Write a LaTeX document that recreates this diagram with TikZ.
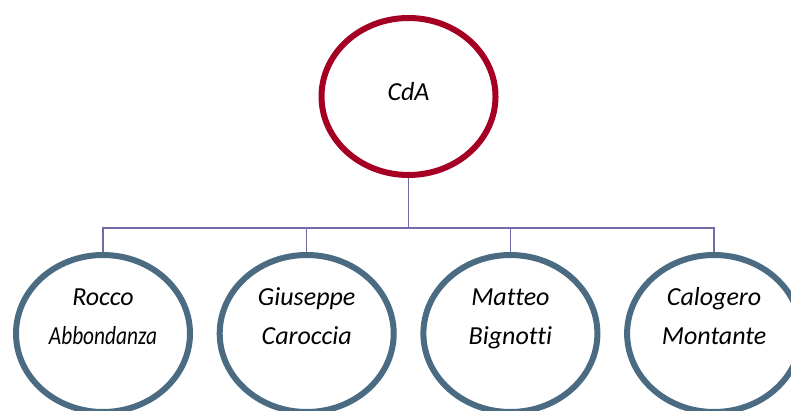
\documentclass[tikz,border=0pt]{standalone}
\usepackage{fontspec}
\setmainfont{Carlito}[Ligatures=NoCommon]
\usetikzlibrary{shapes.geometric, positioning}

\definecolor{boardred}{RGB}{165,0,36}
\definecolor{memberblue}{RGB}{74,107,130}
\definecolor{linkpurple}{RGB}{112,108,168}

\tikzset{
	orb/.style={ellipse, draw, fill=white, line width=6pt, inner sep=0pt, outer sep=0pt,
		minimum width=174pt, minimum height=157pt},
	board/.style={orb, draw=boardred},
	member/.style={orb, draw=memberblue},
	label text/.style={align=center, inner sep=0pt, font=\fontsize{26}{39}\selectfont\itshape},
	link/.style={draw=linkpurple, line width=1.5pt, shorten <=3pt, shorten >=3pt}
}

\begin{document}
\begin{tikzpicture}[x=1pt, y=1pt]
	\useasboundingbox (0,0) rectangle (791,410);

	\node[board] (cda) at (408.5,313.5) {};
	\node[member] (rocco) at (103,76.5) {};
	\node[member, right=29.7pt of rocco] (giuseppe) {};
	\node[member, right=29.7pt of giuseppe] (matteo) {};
	\node[member, right=29.7pt of matteo] (calogero) {};
	\coordinate (bus) at (408.5,182);

	\node[label text] (cdatext) at ([yshift=3.6pt]cda.center) {\strut CdA};
	\node[label text] (roccotext) at ([yshift=16.3pt]rocco.center) {\strut Rocco\\\strut\scalebox{0.82}[1]{Abbondanza}};
	\node[label text] (giuseppetext) at ([yshift=16.3pt]giuseppe.center) {\strut Giuseppe\\\strut Caroccia};
	\node[label text] (matteotext) at ([yshift=16.3pt]matteo.center) {\strut Matteo\\\strut Bignotti};
	\node[label text] (calogerotext) at ([yshift=16.3pt]calogero.center) {\strut Calogero\\\strut Montante};

	\foreach \m in {rocco, giuseppe, matteo, calogero}
		\draw[link] (cda.south) -- (cda.south |- bus) -| (\m.north);
\end{tikzpicture}
\end{document}
